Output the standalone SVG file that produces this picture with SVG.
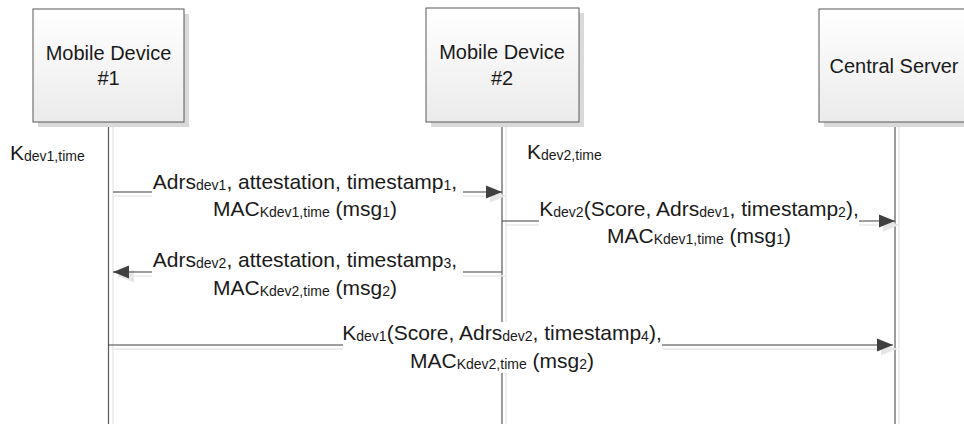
<svg xmlns="http://www.w3.org/2000/svg" width="964" height="424" viewBox="0 0 964 424">
  <defs>
    <linearGradient id="boxfill" x1="0" y1="0" x2="0" y2="1">
      <stop offset="0" stop-color="#ffffff"/>
      <stop offset="1" stop-color="#ebebeb"/>
    </linearGradient>
    <marker id="ah" markerUnits="userSpaceOnUse" markerWidth="16" markerHeight="13" refX="16" refY="6.5" orient="auto" overflow="visible">
      <path d="M0,0 L16,6.5 L0,13 z" fill="#404040"/>
    </marker>
    <marker id="ahs" markerUnits="userSpaceOnUse" markerWidth="16" markerHeight="13" refX="16" refY="6.5" orient="auto" overflow="visible">
      <path d="M0,0 L16,6.5 L0,13 z" fill="#e6e6e6"/>
    </marker>
  </defs>
  <style>
    .box { fill: url(#boxfill); stroke: #595959; stroke-width: 1; }
    .boxsh { fill: #d9d9d9; }
    .life { stroke: #5a5a5a; stroke-width: 1.2; fill: none; }
    .lifesh { stroke: #e8e8e8; stroke-width: 1.5; fill: none; }
    .msg { stroke: #404040; stroke-width: 1.2; fill: none; marker-end: url(#ah); }
    .msgsh { stroke: #e8e8e8; stroke-width: 1.5; fill: none; marker-end: url(#ahs); }
    .bg { fill: #ffffff; }
    text { font-family: "Liberation Sans", Arial, sans-serif; fill: #1a1a1a; }
    .node { font-size: 20px; text-anchor: middle; }
    .lbl { font-size: 21px; text-anchor: middle; }
    .key { font-size: 21px; }
    .sub { font-size: 14px; }
  </style>

  <g id="lifelines">
    <line class="lifesh" x1="113" y1="127" x2="113" y2="424"/>
    <line class="lifesh" x1="506" y1="127" x2="506" y2="424"/>
    <line class="lifesh" x1="899" y1="127" x2="899" y2="424"/>
    <line class="life" x1="108.5" y1="122" x2="108.5" y2="424"/>
    <line class="life" x1="502" y1="122" x2="502" y2="424"/>
    <line class="life" x1="895" y1="122" x2="895" y2="424"/>
  </g>

  <g id="device1">
    <rect class="boxsh" x="38" y="14" width="151" height="113"/>
    <rect class="box" x="33" y="9" width="151" height="113"/>
    <text class="node" x="108.5" y="60">Mobile Device</text>
    <text class="node" x="108.5" y="85">#1</text>
  </g>

  <g id="device2">
    <rect class="boxsh" x="431" y="13" width="153" height="114"/>
    <rect class="box" x="426" y="8" width="153" height="114"/>
    <text class="node" x="502" y="59">Mobile Device</text>
    <text class="node" x="502" y="85">#2</text>
  </g>

  <g id="server">
    <rect class="boxsh" x="824" y="14" width="152" height="113"/>
    <rect class="box" x="819" y="9" width="152" height="113"/>
    <text class="node" x="894" y="73">Central Server</text>
  </g>

  <g id="keys">
    <text class="key" x="10" y="160">K<tspan class="sub" dy="1">dev1,time</tspan></text>
    <text class="key" x="527" y="159">K<tspan class="sub" dy="1">dev2,time</tspan></text>
  </g>

  <g id="connectors">
    <line class="msgsh" x1="113" y1="196" x2="506" y2="196"/>
    <line class="msg" x1="113" y1="192" x2="502" y2="192"/>

    <line class="msgsh" x1="506" y1="225" x2="899" y2="225"/>
    <line class="msg" x1="502" y1="221" x2="895" y2="221"/>

    <line class="msgsh" x1="506" y1="276" x2="118" y2="276"/>
    <line class="msg" x1="502" y1="272" x2="113" y2="272"/>

    <line class="msgsh" x1="112" y1="349" x2="897" y2="349"/>
    <line class="msg" x1="108" y1="345" x2="893" y2="345"/>

    <rect class="bg" x="152" y="168" width="311" height="54"/>
    <rect class="bg" x="539" y="199" width="320" height="50"/>
    <rect class="bg" x="152" y="248" width="311" height="52"/>
    <rect class="bg" x="343" y="322" width="319" height="51"/>

    <text class="lbl" x="305" y="189">Adrs<tspan class="sub" dy="1">dev1</tspan><tspan dy="-1">, attestation, timestamp</tspan><tspan class="sub" dy="1">1</tspan><tspan dy="-1">,</tspan></text>
    <text class="lbl" x="305" y="216">MAC<tspan class="sub" dy="1">Kdev1,time</tspan><tspan dy="-1"> (msg</tspan><tspan class="sub" dy="1">1</tspan><tspan dy="-1">)</tspan></text>

    <text class="lbl" x="699" y="216">K<tspan class="sub" dy="1">dev2</tspan><tspan dy="-1">(Score, Adrs</tspan><tspan class="sub" dy="1">dev1</tspan><tspan dy="-1">, timestamp</tspan><tspan class="sub" dy="1">2</tspan><tspan dy="-1">),</tspan></text>
    <text class="lbl" x="699" y="243">MAC<tspan class="sub" dy="1">Kdev1,time</tspan><tspan dy="-1"> (msg</tspan><tspan class="sub" dy="1">1</tspan><tspan dy="-1">)</tspan></text>

    <text class="lbl" x="305" y="267">Adrs<tspan class="sub" dy="1">dev2</tspan><tspan dy="-1">, attestation, timestamp</tspan><tspan class="sub" dy="1">3</tspan><tspan dy="-1">,</tspan></text>
    <text class="lbl" x="305" y="295">MAC<tspan class="sub" dy="1">Kdev2,time</tspan><tspan dy="-1"> (msg</tspan><tspan class="sub" dy="1">2</tspan><tspan dy="-1">)</tspan></text>

    <text class="lbl" x="502" y="340">K<tspan class="sub" dy="1">dev1</tspan><tspan dy="-1">(Score, Adrs</tspan><tspan class="sub" dy="1">dev2</tspan><tspan dy="-1">, timestamp</tspan><tspan class="sub" dy="1">4</tspan><tspan dy="-1">),</tspan></text>
    <text class="lbl" x="502" y="368">MAC<tspan class="sub" dy="1">Kdev2,time</tspan><tspan dy="-1"> (msg</tspan><tspan class="sub" dy="1">2</tspan><tspan dy="-1">)</tspan></text>
  </g>
</svg>
